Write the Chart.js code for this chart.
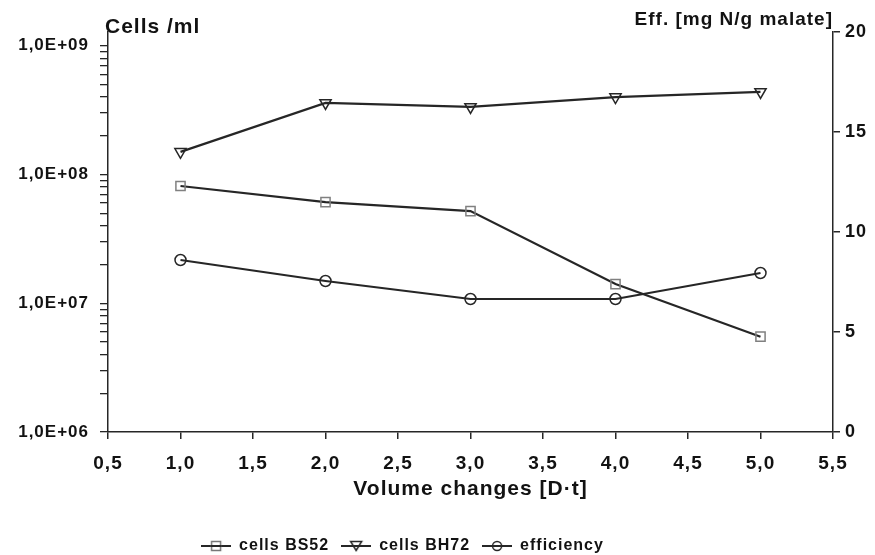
<!DOCTYPE html>
<html lang="en">
<head>
  <meta charset="UTF-8">
  <title>Cells and efficiency vs volume changes</title>
  <script src="https://cdn.jsdelivr.net/npm/chart.js"></script>
  <style>
    body { margin: 0; background: #fff; }
  </style>
</head>
<body>

  <canvas id="myChart" width="875" height="555"></canvas>

  <script>
    // values
    const volumeChanges = [1, 2, 3, 4, 5];
    const cellsBS52 = [8.15e7, 6.1e7, 5.2e7, 1.41e7, 5.5e6];
    const cellsBH72 = [1.5e8, 3.6e8, 3.35e8, 4.0e8, 4.38e8];
    const efficiency = [8.6, 7.55, 6.65, 6.65, 7.95];

    const seriesNames = ['cells BS52', 'cells BH72', 'efficiency'];
    const decadeLabels = { 6: '1,0E+06', 7: '1,0E+07', 8: '1,0E+08', 9: '1,0E+09' };

    const ink = '#121212';
    const lineCol = '#262626';
    const font = '"Liberation Sans", Arial, sans-serif';

    Chart.defaults.font.family = font;
    Chart.defaults.font.weight = 'bold';
    Chart.defaults.color = ink;

    function toPoints(ys) {
      return volumeChanges.map((x, i) => ({ x: x, y: ys[i] }));
    }

    // small line + marker pictures for the legend
    function legendIcon(kind, markerCol) {
      const c = document.createElement('canvas');
      c.width = 30; c.height = 14;
      const g = c.getContext('2d');
      g.strokeStyle = lineCol;
      g.lineWidth = 2;
      g.beginPath(); g.moveTo(0, 7); g.lineTo(30, 7); g.stroke();
      g.strokeStyle = markerCol;
      g.lineWidth = 1.5;
      g.fillStyle = '#fff';
      g.beginPath();
      if (kind === 'rect') {
        g.rect(10.5, 2.5, 9, 9);
      } else if (kind === 'tri') {
        g.moveTo(9.5, 2.5); g.lineTo(20.5, 2.5); g.lineTo(15, 11.5); g.closePath();
      } else {
        g.arc(15, 7, 4.5, 0, Math.PI * 2);
      }
      g.fill(); g.stroke();
      g.beginPath(); g.strokeStyle = lineCol; g.lineWidth = 2;
      g.moveTo(10, 7); g.lineTo(20, 7); g.stroke();
      return c;
    }
    const icons = [legendIcon('rect', '#777'), legendIcon('tri', lineCol), legendIcon('circle', lineCol)];

    // wider letter spacing, like the old plotter font
    const spacing = {
      id: 'spacing',
      beforeLayout(chart) { chart.ctx.letterSpacing = '1px'; },
      beforeDraw(chart) { chart.ctx.letterSpacing = '1px'; }
    };

    // the legend in the original sits a bit left of centre and lower
    const legendShift = {
      id: 'legendShift',
      afterLayout(chart) {
        const lg = chart.legend;
        lg.left -= 35; lg.right -= 35;
        lg.top += 9; lg.bottom += 9;
      }
    };

    // horizontal captions above the two value axes
    const captions = {
      id: 'captions',
      afterDraw(chart) {
        const ctx = chart.ctx;
        ctx.save();
        ctx.fillStyle = ink;
        ctx.textBaseline = 'middle';
        ctx.font = 'bold 21px ' + font;
        ctx.textAlign = 'left';
        ctx.fillText('Cells /ml', chart.scales.y.right - 3, 27);
        ctx.font = 'bold 19px ' + font;
        ctx.textAlign = 'right';
        ctx.fillText('Eff. [mg N/g malate]', chart.scales.y1.left, 20);
        ctx.restore();
      }
    };

    const ctx = document.getElementById('myChart').getContext('2d');
    const myChart = new Chart(ctx, {
      type: 'line',
      data: {
        datasets: [{
          label: seriesNames[0],
          data: toPoints(cellsBS52),
          yAxisID: 'y',
          borderColor: lineCol,
          borderWidth: 2.2,
          pointStyle: 'rect',
          pointRadius: 6.5,
          pointBorderColor: '#808080',
          pointBorderWidth: 1.5,
          pointBackgroundColor: 'rgba(255,255,255,0)'
        }, {
          label: seriesNames[1],
          data: toPoints(cellsBH72),
          yAxisID: 'y',
          borderColor: lineCol,
          borderWidth: 2.2,
          pointStyle: 'triangle',
          pointRotation: 180,
          pointRadius: 6.5,
          pointBorderColor: lineCol,
          pointBorderWidth: 1.5,
          pointBackgroundColor: 'rgba(255,255,255,0)'
        }, {
          label: seriesNames[2],
          data: toPoints(efficiency),
          yAxisID: 'y1',
          borderColor: lineCol,
          borderWidth: 2.2,
          pointStyle: 'circle',
          pointRadius: 5.5,
          pointBorderColor: lineCol,
          pointBorderWidth: 1.5,
          pointBackgroundColor: 'rgba(255,255,255,0)'
        }]
      },
      options: {
        responsive: false,
        animation: false,
        layout: { padding: { top: 32, left: 0, right: 0, bottom: 0 } },
        plugins: {
          tooltip: { enabled: false },
          legend: {
            position: 'bottom',
            labels: {
              usePointStyle: true,
              pointStyleWidth: 30,
              padding: 12,
              color: ink,
              font: { size: 16, weight: 'bold' },
              generateLabels(chart) {
                return chart.data.datasets.map((ds, i) => ({
                  text: ds.label,
                  pointStyle: icons[i],
                  fillStyle: '#fff',
                  strokeStyle: lineCol,
                  lineWidth: 0,
                  hidden: false,
                  datasetIndex: i,
                  fontColor: ink
                }));
              }
            }
          }
        },
        scales: {
          x: {
            type: 'linear',
            min: 0.5,
            max: 5.5,
            afterFit(s) { s.height = 85; },
            ticks: {
              stepSize: 0.5,
              padding: 13,
              color: ink,
              font: { size: 19, weight: 'bold' },
              callback: v => v.toFixed(1).replace('.', ',')
            },
            grid: { drawOnChartArea: false, drawTicks: true, tickLength: 7, color: lineCol, lineWidth: 1.5 },
            border: { display: true, color: lineCol, width: 1.5 },
            title: {
              display: true,
              text: 'Volume changes [D\u00b7t]',
              color: ink,
              font: { size: 21, weight: 'bold' },
              padding: { top: 0, bottom: 15 }
            }
          },
          y: {
            type: 'logarithmic',
            position: 'left',
            min: 1e6,
            max: 1.28e9,
            afterFit(s) { s.width = 108; },
            afterBuildTicks(s) {
              const t = [];
              for (let e = 6; e <= 8; e++) {
                for (let m = 1; m <= 9; m++) t.push({ value: m * Math.pow(10, e) });
              }
              t.push({ value: 1e9 });
              s.ticks = t;
            },
            ticks: {
              autoSkip: false,
              padding: 11,
              color: ink,
              font: { size: 17, weight: 'bold' },
              callback(v) {
                const e = Math.log10(v);
                return Math.abs(e - Math.round(e)) < 1e-6 ? decadeLabels[Math.round(e)] : '';
              }
            },
            grid: { drawOnChartArea: false, drawTicks: true, tickLength: 8, color: lineCol, lineWidth: 1.3 },
            border: { display: true, color: lineCol, width: 1.5 }
          },
          y1: {
            type: 'linear',
            position: 'right',
            min: 0,
            max: 20,
            afterFit(s) { s.width = 42; },
            ticks: {
              stepSize: 5,
              padding: 5,
              color: ink,
              font: { size: 18, weight: 'bold' }
            },
            grid: { drawOnChartArea: false, drawTicks: true, tickLength: 7, color: lineCol, lineWidth: 1.5 },
            border: { display: true, color: lineCol, width: 1.5 }
          }
        }
      },
      plugins: [spacing, legendShift, captions]
    });
  </script>
</body>
</html>
